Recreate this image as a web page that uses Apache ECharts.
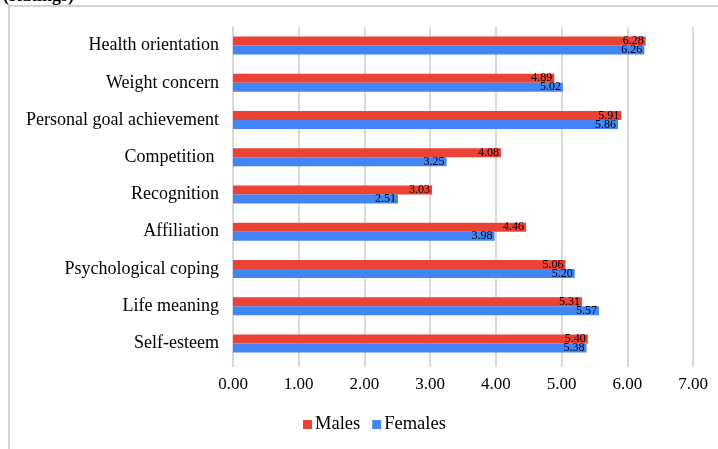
<!DOCTYPE html>
<html>
<head>
<meta charset="utf-8">
<script src="https://cdn.jsdelivr.net/npm/echarts@6/dist/echarts.min.js"></script>
<style>
    html, body { margin: 0; padding: 0; background: #fff; overflow: hidden; }
    #chart { width: 718px; height: 449px; }
    #frame {
        position: absolute; left: 8px; top: 5px; width: 760px; height: 500px;
        border-top: 2px solid #d4d4d4; border-left: 2px solid #d4d4d4;
        pointer-events: none;
    }
</style>
</head>
<body>
<div id="chart"></div>
<div id="frame"></div>
<script>
//*************** data ***************
var categories = ['Health orientation', 'Weight concern', 'Personal goal achievement', 'Competition ',
    'Recognition', 'Affiliation', 'Psychological coping', 'Life meaning', 'Self-esteem'];
var males = [6.28, 4.89, 5.91, 4.08, 3.03, 4.46, 5.06, 5.31, 5.40];
var females = [6.26, 5.02, 5.86, 3.25, 2.51, 3.98, 5.20, 5.57, 5.38];
var tick_max = 7;

var serif = '"Liberation Serif", "DejaVu Serif", serif';

//*************** init ***************
var chart_dom = document.getElementById('chart');
var chart = echarts.init(chart_dom);

var bar_label = {
    show: true,
    position: 'insideRight',
    distance: 2,
    color: '#000',
    fontFamily: serif,
    fontSize: 12,
    formatter: function (p) { return p.value.toFixed(2); }
};

chart.setOption({
    animation: false,
    title: {
        text: '(Ratings)',
        left: -2,
        top: -18,
        textStyle: { fontFamily: serif, fontSize: 18, fontWeight: 'bold', color: '#000' }
    },
    legend: {
        data: ['Males', 'Females'],
        left: 298,
        top: 410,
        itemWidth: 9,
        itemHeight: 9,
        itemGap: 12,
        icon: 'rect',
        textStyle: { fontFamily: serif, fontSize: 18.5, color: '#000', padding: [0, 0, 0, -2] }
    },
    grid: {
        left: 233,
        right: 25,
        top: 27,
        bottom: 87,
        containLabel: false
    },
    xAxis: {
        type: 'value',
        min: 0,
        max: tick_max,
        interval: 1,
        axisLine: { show: false },
        axisTick: { show: true, length: 5, lineStyle: { color: '#d9d9d9', width: 2 } },
        splitLine: { show: true, lineStyle: { color: '#d9d9d9', width: 2 } },
        axisLabel: {
            margin: 14,
            fontFamily: serif,
            fontSize: 17,
            color: '#000',
            formatter: function (v) { return v.toFixed(2); }
        }
    },
    yAxis: {
        type: 'category',
        data: categories,
        inverse: true,
        axisLine: { show: true, lineStyle: { color: '#d9d9d9', width: 2 } },
        axisTick: { show: false },
        axisLabel: { margin: 14, fontFamily: serif, fontSize: 18, color: '#000' }
    },
    series: [
        {
            name: 'Males',
            type: 'bar',
            data: males,
            barWidth: 9,
            barGap: '0%',
            itemStyle: { color: '#EA4335' },
            label: bar_label
        },
        {
            name: 'Females',
            type: 'bar',
            data: females,
            barWidth: 9,
            barGap: '0%',
            itemStyle: { color: '#4285F4' },
            label: bar_label
        }
    ]
});
</script>
</body>
</html>
